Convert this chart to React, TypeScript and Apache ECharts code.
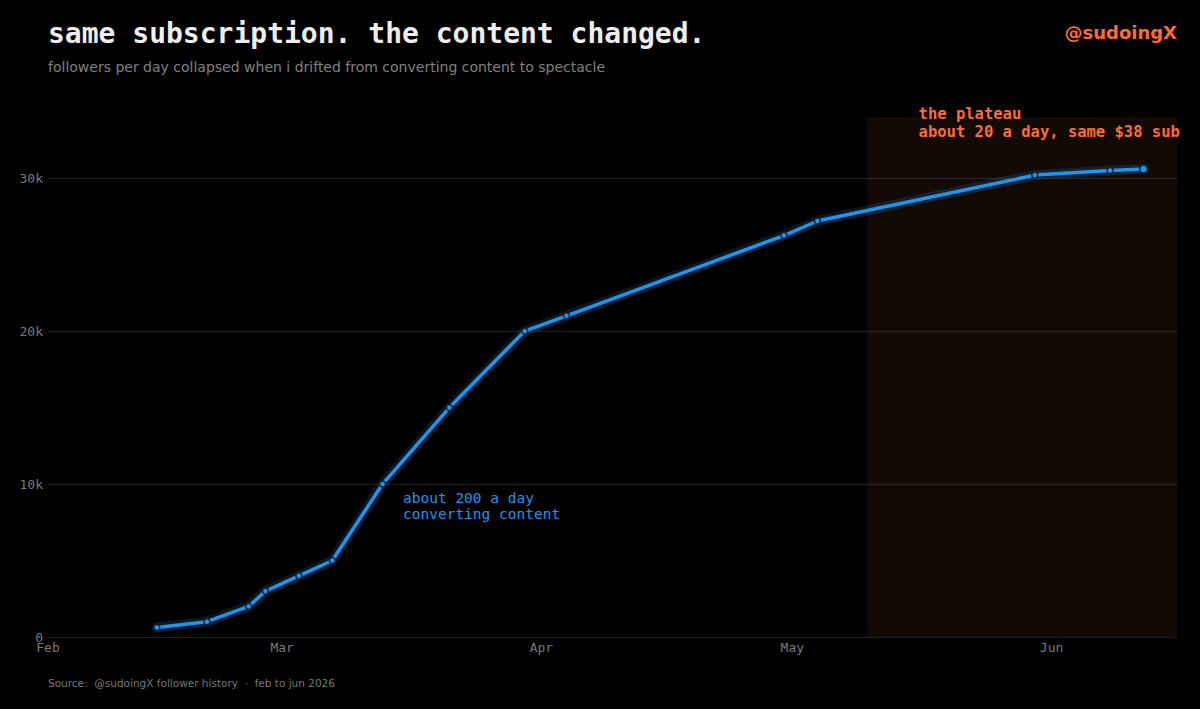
import React, { useEffect, useRef } from "react";
import * as echarts from "echarts";

// ---- data ----
const pointDates = [
  "2026-02-14", "2026-02-20", "2026-02-25", "2026-02-27", "2026-03-03",
  "2026-03-07", "2026-03-13", "2026-03-21", "2026-03-30", "2026-04-04",
  "2026-04-30", "2026-05-04", "2026-05-30", "2026-06-08", "2026-06-12",
];
const followers = [
  620, 1000, 2000, 3000, 4000,
  5000, 10000, 15000, 20000, 21000,
  26250, 27200, 30200, 30500, 30600,
];
const monthStarts = ["2026-02-01", "2026-03-01", "2026-04-01", "2026-05-01", "2026-06-01"];
const monthLabels = ["Feb", "Mar", "Apr", "May", "Jun"];
const xStart = "2026-02-01";
const xEnd = "2026-06-16";
const plateauStart = "2026-05-10";
const yMin = 0;
const yMax = 34000;
const yStep = 10000;

const TITLE = "same subscription. the content changed.";
const SUBTITLE = "followers per day collapsed when i drifted from converting content to spectacle";
const HANDLE = "@sudoingX";
const SOURCE = "Source:  @sudoingX follower history  \u00b7  feb to jun 2026";
const NOTE_GROWTH = "about 200 a day\nconverting content";
const NOTE_PLATEAU = "the plateau\nabout 20 a day, same $38 sub";

const toTs = (s: string) => {
  const [y, m, d] = s.split("-").map(Number);
  return Date.UTC(y, m - 1, d);
};

const BLUE = "#1f95ee";
const ORANGE = "#ff6b35";
const MONO = "'DejaVu Sans Mono', monospace";
const SANS = "'DejaVu Sans', sans-serif";

export default function App() {
  const ref = useRef<HTMLDivElement>(null);

  useEffect(() => {
    document.body.style.margin = "0";
    document.body.style.background = "#000";
    if (!ref.current) return;
    const chart = echarts.init(ref.current, null, { renderer: "svg" });
    const seriesData = pointDates.map((d, i) => [toTs(d), followers[i]]);
    const monthTs = monthStarts.map(toTs);
    const last = seriesData.length - 1;

    chart.setOption({
      animation: false,
      backgroundColor: "#000",
      grid: { left: 48, right: 23, top: 117, bottom: 72 },
      xAxis: {
        type: "value",
        min: toTs(xStart),
        max: toTs(xEnd),
        axisLine: { show: false },
        axisTick: { show: false },
        splitLine: { show: false },
        axisLabel: {
          customValues: monthTs,
          showMinLabel: true,
          showMaxLabel: true,
          formatter: (v: number) => {
            const idx = monthTs.findIndex((t) => Math.abs(t - v) < 43200000);
            return idx >= 0 ? monthLabels[idx] : "";
          },
          color: "#7a7a7a",
          fontFamily: MONO,
          fontSize: 13,
          margin: 4,
          hideOverlap: false,
        },
      },
      yAxis: {
        type: "value",
        min: yMin,
        max: yMax,
        interval: yStep,
        axisLine: { show: false },
        axisTick: { show: false },
        splitLine: {
          show: true,
          showMaxLine: false,
          lineStyle: { color: "#202024", width: 1 },
        },
        axisLabel: {
          showMaxLabel: false,
          color: "#7a7a7a",
          fontFamily: MONO,
          fontSize: 13,
          margin: 5,
          formatter: (v: number) =>
            v === 0 ? "0" : v % yStep === 0 ? `${v / 1000}k` : "",
        },
      },
      series: [
        {
          type: "line",
          name: "halo",
          silent: true,
          data: seriesData,
          symbol: "none",
          z: 1,
          lineStyle: { color: "rgba(31,149,238,0.17)", width: 10, cap: "round", join: "round" },
          markArea: {
            silent: true,
            itemStyle: { color: "rgba(255,140,70,0.075)" },
            label: {
              show: true,
              position: [51, -12],
              formatter: NOTE_PLATEAU,
              color: ORANGE,
              fontFamily: MONO,
              fontWeight: "bold",
              fontSize: 15.5,
              lineHeight: 18,
              align: "left",
              verticalAlign: "top",
            },
            data: [[
              { xAxis: toTs(plateauStart), yAxis: yMin },
              { xAxis: toTs(xEnd), yAxis: yMax },
            ]],
          },
        },
        {
          type: "line",
          name: "followers",
          data: seriesData,
          z: 3,
          symbol: "circle",
          symbolSize: (_v: any, p: any) => (p.dataIndex === last ? 8 : 6),
          lineStyle: { color: BLUE, width: 3.5, join: "round" },
          itemStyle: { color: BLUE, borderColor: "#0a2438", borderWidth: 1.5 },
        },
      ],
      graphic: [
        {
          type: "text",
          left: 48,
          top: 19,
          style: {
            text: TITLE,
            fill: "#eeeeee",
            font: `bold 28px ${MONO}`,
          },
        },
        {
          type: "text",
          left: 48,
          top: 60,
          style: {
            text: SUBTITLE,
            fill: "#808080",
            font: `14px ${SANS}`,
          },
        },
        {
          type: "text",
          right: 23,
          top: 23,
          style: {
            text: HANDLE,
            fill: ORANGE,
            font: `bold 18px ${SANS}`,
          },
        },
        {
          type: "text",
          left: 48,
          top: 677,
          style: {
            text: SOURCE,
            fill: "#777",
            font: `10.5px ${SANS}`,
          },
        },
        {
          type: "text",
          left: 403,
          top: 490,
          style: {
            text: NOTE_GROWTH,
            fill: BLUE,
            font: `14.5px ${MONO}`,
            lineHeight: 16,
          },
        },
      ],
    });

    return () => chart.dispose();
  }, []);

  return (
    <div
      ref={ref}
      style={{ position: "fixed", left: 0, top: 0, width: 1200, height: 709, background: "#000" }}
    />
  );
}
